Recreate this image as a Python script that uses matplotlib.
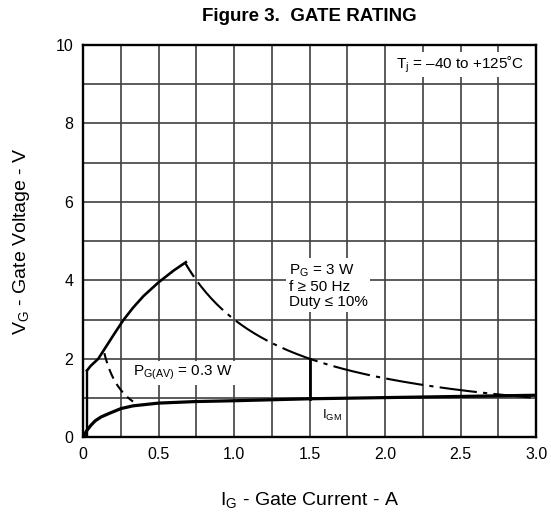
import matplotlib.pyplot as plt
import numpy as np

plt.rcParams["font.family"] = ["Liberation Sans", "DejaVu Sans"]
plt.rcParams["mathtext.fontset"] = "custom"
plt.rcParams["mathtext.rm"] = "Liberation Sans"
plt.rcParams["mathtext.it"] = "Liberation Sans"

# Gate characteristic curves
lower_i = [0.0, 0.02, 0.05, 0.08, 0.12, 0.18, 0.25, 0.33, 0.5, 0.75, 1.0,
           1.5, 2.0, 2.5, 3.0]
lower_v = [0.0, 0.15, 0.3, 0.42, 0.52, 0.62, 0.73, 0.8, 0.87, 0.91, 0.93,
           0.98, 1.01, 1.04, 1.07]

upper_i = [0.025, 0.05, 0.1, 0.15, 0.2, 0.265, 0.33, 0.4, 0.5, 0.6, 0.68]
upper_v = [1.7, 1.82, 2.0, 2.3, 2.6, 2.98, 3.3, 3.6, 3.95, 4.25, 4.46]

peak_power = 3.0      # W
avg_power = 0.3       # W
igm = 1.5             # A
left_i = 0.025

fig = plt.figure(figsize=(5.51, 5.15), dpi=100)
ax = fig.add_axes([0.151, 0.151, 0.822, 0.762])

# Grid
for x in np.arange(0.25, 3.0, 0.25):
    ax.axvline(x, color="0.25", lw=1.2, zorder=1)
for y in np.arange(1, 10, 1):
    ax.axhline(y, color="0.25", lw=1.2, zorder=1)

# Curves
ax.plot(lower_i, lower_v, color="black", lw=2.3, zorder=3)
ax.plot(upper_i, upper_v, color="black", lw=1.9, zorder=3)

i_solid = np.linspace(0.68, 0.73, 5)
ax.plot(i_solid, peak_power / i_solid, color="black", lw=1.6, zorder=3)
i_pk = np.linspace(0.76, 3.0, 200)
ax.plot(i_pk, peak_power / i_pk, color="black", lw=1.5, zorder=3,
        linestyle=(0, (18, 3, 2, 3)))

i_av = np.linspace(0.14, 0.33, 50)
ax.plot(i_av, avg_power / i_av, color="black", lw=1.5, zorder=3,
        linestyle=(0, (5, 3)))

ax.plot([igm, igm], [0.98, peak_power / igm], color="black", lw=2.0, zorder=3)
ax.plot([left_i, left_i], [0.05, upper_v[0]], color="black", lw=1.7, zorder=3)

# Labels in the plot
box = dict(facecolor="white", edgecolor="none", pad=2)
ax.text(2.07, 9.5, "T$_\\mathregular{j}$ = \u201340 to +125\u02daC", fontsize=11,
        va="center", ha="left", bbox=box, zorder=4)
ax.text(1.36, 4.45, "P$_\\mathregular{G}$ = 3 W\nf \u2265 50 Hz\nDuty \u2264 10%",
        fontsize=11, va="top", ha="left", linespacing=1.08, bbox=box, zorder=4)
ax.text(0.33, 1.63, "P$_\\mathregular{G(AV)}$ = 0.3 W", fontsize=11,
        va="center", ha="left", bbox=box, zorder=4)
ax.text(1.58, 0.55, "I$_\\mathregular{GM}$", fontsize=9.5, va="center", ha="left",
        bbox=box, zorder=4)

ax.set_xlim(0, 3.0)
ax.set_ylim(0, 10)
ax.set_xticks([0, 0.5, 1.0, 1.5, 2.0, 2.5, 3.0])
ax.set_xticklabels(["0", "0.5", "1.0", "1.5", "2.0", "2.5", "3.0"])
ax.set_yticks([0, 2, 4, 6, 8, 10])
ax.tick_params(length=0, labelsize=11.5, pad=7)
for s in ax.spines.values():
    s.set_linewidth(1.7)

ax.set_xlabel("I$_\\mathregular{G}$ - Gate Current - A", fontsize=14, labelpad=20)
ax.set_ylabel("V$_\\mathregular{G}$ - Gate Voltage - V", fontsize=14, labelpad=17)
ax.set_title("Figure 3.  GATE RATING", fontsize=13.5, fontweight="bold", pad=17)

fig.savefig("out.png", dpi=100)
